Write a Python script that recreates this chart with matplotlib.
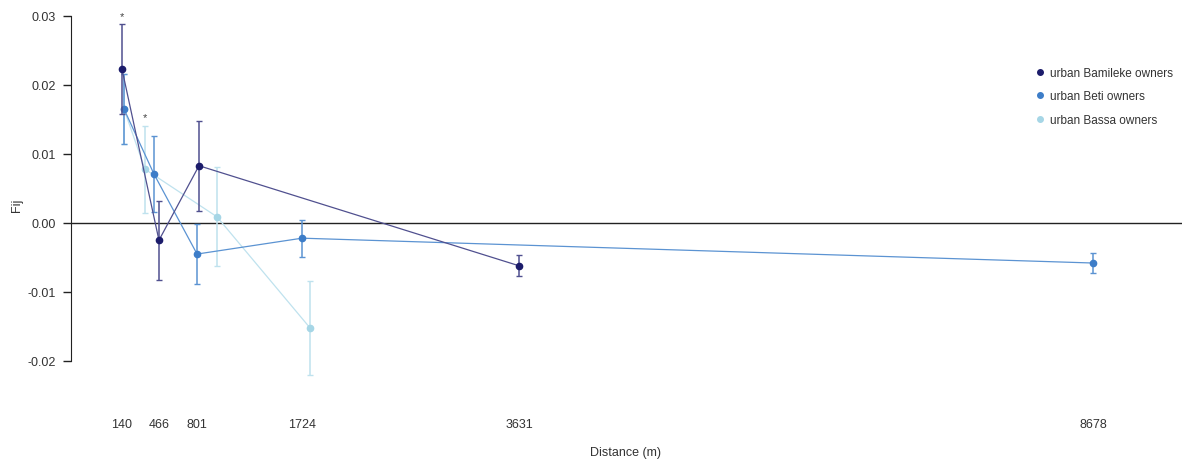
import matplotlib
matplotlib.use('Agg')
import matplotlib.pyplot as plt
from matplotlib.lines import Line2D

plt.rcParams['font.family'] = ['Liberation Sans', 'DejaVu Sans']

# ---- data ----
tick_positions = [140, 466, 801, 1724, 3631, 8678]
tick_labels = ['140', '466', '801', '1724', '3631', '8678']

groups = ['urban Bamileke owners', 'urban Beti owners', 'urban Bassa owners']

bam_dist = [140, 465, 817, 3631]
bam_fij = [0.0223, -0.0025, 0.0083, -0.0062]
bam_err = [0.0065, 0.0057, 0.0065, 0.0015]

beti_dist = [158, 421, 800, 1723, 8678]
beti_fij = [0.0165, 0.0071, -0.0045, -0.0022, -0.0058]
beti_err = [0.0051, 0.0055, 0.0044, 0.0027, 0.0015]

bassa_dist = [158, 342, 975, 1793]
bassa_fij = [0.0165, 0.0078, 0.0009, -0.0152]
bassa_err = [0.0051, 0.0063, 0.0072, 0.0068]

# significant points (series index, point index)
sig_points = [(0, 0), (2, 1)]

colors = ['#1c1c6b', '#3d7dc8', '#a6d6e6']
line_colors = ['#50508f', '#5b93d2', '#bfe2ee']

W, H = 1182, 464
fig = plt.figure(figsize=(W / 100, H / 100), dpi=100)
ax_left, ax_right, ax_top, ax_bot = 71, 1182, 0, 400
ax = fig.add_axes([ax_left / W, 1 - ax_bot / H, (ax_right - ax_left) / W, (ax_bot - ax_top) / H])

series = [(bam_dist, bam_fij, bam_err), (beti_dist, beti_fij, beti_err), (bassa_dist, bassa_fij, bassa_err)]

ax.axhline(0, color='#222222', lw=1.0, zorder=1)

for i in [2, 1, 0]:
    d, f, e = series[i]
    z = 2 + (2 - i) * 2
    ax.plot(d, f, color=line_colors[i], lw=0.9, zorder=z)
    ax.errorbar(d, f, yerr=e, fmt='none', ecolor=line_colors[i], elinewidth=1.1,
                capsize=2.3, capthick=1.0, zorder=z)
    ax.plot(d, f, 'o', color=colors[i], ms=4.5, mec=colors[i], zorder=z + 1, linestyle='none')

for si, pi in sig_points:
    d, f, e = series[si]
    ax.text(d[pi], f[pi] + e[pi] + 0.0005, '*', ha='center', va='bottom',
            fontsize=8, color='#444444')

# y scale: 0 at pixel 224, 0.01 per 69 px
ppu = 6900.0
ax.set_ylim(-(ax_bot - 224) / ppu, (224 - ax_top) / ppu)
# x scale: 140 at pixel 122
pxm = 971.0 / (8678 - 140)
ax.set_xlim(140 - (122 - ax_left) / pxm, 140 + (ax_right - 122) / pxm)

ax.spines['top'].set_visible(False)
ax.spines['right'].set_visible(False)
ax.spines['bottom'].set_visible(False)
ax.spines['left'].set_bounds(-0.02, 0.03)
ax.spines['left'].set_color('#222222')

ax.set_yticks([-0.02, -0.01, 0.0, 0.01, 0.02, 0.03])
ax.set_yticklabels(['-0.02', '-0.01', '0.00', '0.01', '0.02', '0.03'])
ax.tick_params(axis='y', length=6, width=1, pad=5, labelsize=9, colors='#222222', labelcolor='#333333')
ax.set_xticks(tick_positions)
ax.set_xticklabels(tick_labels)
ax.tick_params(axis='x', length=0, pad=14, labelsize=9, labelcolor='#333333')

fig.text(626 / W, 1 - 453 / H, 'Distance (m)', ha='center', va='center', fontsize=9, color='#333333')
fig.text(17 / W, 1 - 205 / H, 'Fij', ha='center', va='center', rotation=90, fontsize=9, color='#333333')

handles = [Line2D([], [], marker='o', linestyle='none', color=c, ms=4) for c in colors]
leg = ax.legend(handles, groups, loc='upper left', bbox_to_anchor=(1032 / W, 1 - 63 / H),
                bbox_transform=fig.transFigure, frameon=False, fontsize=8.5,
                handlelength=0.6, handletextpad=0.55, labelspacing=0.98, borderaxespad=0)
for t in leg.get_texts():
    t.set_color('#333333')

fig.savefig('out.png', dpi=100)
